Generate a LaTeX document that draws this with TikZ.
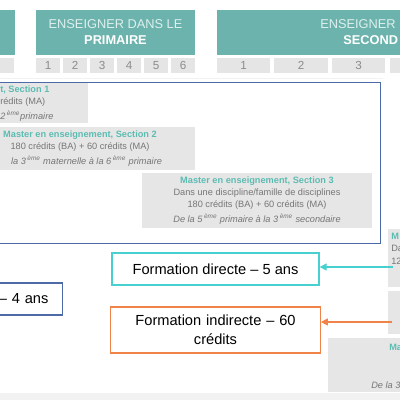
\documentclass[tikz,border=0pt]{standalone}
\usepackage{fontspec}
\setmainfont{Liberation Sans}
\usepackage{tikz}
\usetikzlibrary{arrows.meta, positioning}
\usepackage{xcolor}
\definecolor{TL}{RGB}{108,179,173}
\definecolor{TX}{RGB}{92,188,178}
\definecolor{HL}{RGB}{222,240,238}
\definecolor{NB}{RGB}{229,229,229}
\definecolor{NT}{RGB}{140,140,140}
\definecolor{GB}{RGB}{230,230,230}
\definecolor{GT}{RGB}{118,118,118}
\definecolor{BL}{RGB}{76,106,168}
\definecolor{CY}{RGB}{70,208,208}
\definecolor{OR}{RGB}{240,132,72}
\definecolor{LGr}{RGB}{242,242,242}
\newcommand{\sectitle}[1]{{\color{TX}\bfseries #1}}

\begin{document}
\begin{tikzpicture}[x=0.025cm, y=-0.025cm,
  hdr/.style={fill=TL, minimum height=1.125cm, inner sep=0pt, align=center,
              text=HL, font=\fontsize{9.1}{11.4}\selectfont},
  num/.style={fill=NB, minimum height=0.375cm, inner sep=0pt,
              text=NT, font=\fontsize{8.3}{10}\selectfont},
  sec/.style={fill=GB, inner sep=1pt, text=GT, font=\fontsize{6.55}{8.7}\selectfont},
  form/.style={draw, line width=0.9pt, fill=white, minimum width=5.175cm,
               align=center, font=\fontsize{10.4}{13.5}\selectfont},
  link/.style={line width=0.9pt, -{Triangle[length=5pt, width=5pt]}}
]
\clip (0,0) rectangle (400,400);
\fill[LGr] (0,393) rectangle (400,400);
\draw[LGr, line width=0.7pt] (0,78) -- (383,78);

\node[hdr, minimum width=1.5cm, anchor=north east] (hdrM) at (15,10) {};
\node[hdr, minimum width=3.975cm] (hdrP) at (115.5,32.5) {ENSEIGNER DANS LE\\{\color{white}\bfseries PRIMAIRE}};
\node[hdr, minimum width=8.525cm] (hdrS) at (387.5,32.5) {};
\node[hdr, minimum width=0pt, minimum height=0pt, anchor=base west] (hdrS1) at (320,29) {ENSEIGNER};
\node[hdr, minimum width=0pt, minimum height=0pt, anchor=base west, text=white, font=\fontsize{9.1}{11.4}\selectfont\bfseries] (hdrS2) at (343,45) {SECOND};

\node[num, minimum width=0.6cm] (nM) at (2,65.5) {};
\node[num, minimum width=0.6cm] (nP1) at (48,65.5) {1};
\node[num, minimum width=0.6cm] (nP2) at (75,65.5) {2};
\node[num, minimum width=0.6cm] (nP3) at (102,65.5) {3};
\node[num, minimum width=0.6cm] (nP4) at (129,65.5) {4};
\node[num, minimum width=0.6cm] (nP5) at (156,65.5) {5};
\node[num, minimum width=0.6cm] (nP6) at (183,65.5) {6};
\node[num, minimum width=1.325cm] (nS1) at (243.5,65.5) {1};
\node[num, minimum width=1.325cm] (nS2) at (301,65.5) {2};
\node[num, minimum width=1.325cm] (nS3) at (358.5,65.5) {3};
\node[num, minimum width=1.325cm] (nS4) at (416,65.5) {};

\node[draw=BL, line width=1pt, minimum width=9.65cm, minimum height=4.025cm, anchor=north east] (frame) at (381,82) {};

\node[sec, anchor=north east, minimum width=2.3cm, minimum height=1cm] (sec1) at (88,83) {};
\node[sec, fill=none, anchor=west, align=left, inner sep=0pt] (sec1txt) at (0,103.5) {\sectitle{t, Section 1}\\ rédits (MA)\\[2pt] \textit{2\,\textsuperscript{ème}primaire}};
\node[sec, align=center, minimum width=5.75cm, minimum height=1.075cm] (sec2) at (80,148.5) {\sectitle{Master en enseignement, Section 2}\\ 180 crédits (BA) + 60 crédits (MA)\\[2pt] \hspace*{0.325cm}\textit{la 3\,\textsuperscript{ème} maternelle à la 6\,\textsuperscript{ème} primaire}};
\node[sec, align=center, minimum width=5.75cm, minimum height=1.375cm] (sec3) at (257,200.5) {\sectitle{Master en enseignement, Section 3}\\ Dans une discipline/famille de disciplines\\ 180 crédits (BA) + 60 crédits (MA)\\[2pt] \textit{De la 5\,\textsuperscript{ème} primaire à la 3\,\textsuperscript{ème} secondaire}};

\node[sec, anchor=north west, minimum width=2cm, minimum height=1.45cm] (sec4) at (388,229) {};
\node[sec, fill=none, anchor=north west, align=left, inner sep=0pt] (sec4txt) at (391,233) {\sectitle{M}\\Da\\12};
\node[sec, anchor=north west, minimum width=2cm, minimum height=1.075cm] (sec5) at (388,291) {};
\node[sec, anchor=north west, minimum width=3.5cm, minimum height=1.35cm] (sec6) at (328,338) {};
\node[sec, fill=none, anchor=west, inner sep=0pt] (sec6a) at (389,347) {\sectitle{Ma}};
\node[sec, fill=none, anchor=west, inner sep=0pt] (sec6b) at (371,385) {\textit{De la 3}};

\node[form, draw=CY, minimum height=0.8cm] (fdir) at (215.5,269) {Formation directe – 5 ans};
\node[form, draw=OR, minimum height=1.15cm, text width=5cm] (find) at (215.5,330) {Formation indirecte – 60\\crédits};
\node[form, draw=BL, minimum height=0.8cm, anchor=east, inner xsep=0.35cm, text width=4.475cm, align=right] (fini) at (63,299) {– 4 ans};

\coordinate (dirStart) at (393,267);
\coordinate (indStart) at (392,322);
\draw[link, CY] (dirStart) -- (dirStart -| fdir.east);
\draw[link, OR] (indStart) -- (indStart -| find.east);
\end{tikzpicture}
\end{document}
